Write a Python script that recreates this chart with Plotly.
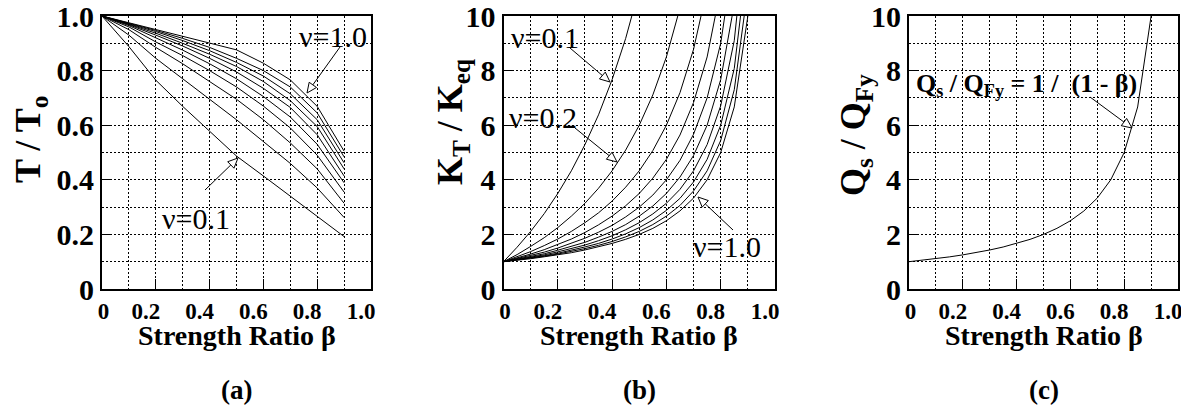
import math
import plotly.graph_objects as go

W, H = 1181, 411

# ---------------- data ----------------
beta_a = [0.0, 0.1, 0.2, 0.3, 0.4, 0.5, 0.6, 0.7, 0.8, 0.9]
T_nu01 = [1.0, 0.888, 0.765, 0.669, 0.578, 0.487, 0.414, 0.341, 0.268, 0.192]
T_nu02 = [1.0, 0.930, 0.845, 0.770, 0.695, 0.620, 0.540, 0.460, 0.370, 0.262]
T_nu03 = [1.0, 0.950, 0.885, 0.825, 0.760, 0.695, 0.620, 0.535, 0.440, 0.314]
T_nu04 = [1.0, 0.960, 0.905, 0.855, 0.800, 0.740, 0.670, 0.590, 0.490, 0.355]
T_nu05 = [1.0, 0.965, 0.920, 0.875, 0.825, 0.770, 0.705, 0.630, 0.530, 0.389]
T_nu06 = [1.0, 0.968, 0.930, 0.890, 0.845, 0.795, 0.735, 0.665, 0.565, 0.414]
T_nu07 = [1.0, 0.970, 0.937, 0.900, 0.860, 0.815, 0.760, 0.690, 0.595, 0.440]
T_nu08 = [1.0, 0.972, 0.943, 0.910, 0.873, 0.830, 0.780, 0.715, 0.620, 0.462]
T_nu09 = [1.0, 0.974, 0.947, 0.918, 0.885, 0.845, 0.800, 0.740, 0.645, 0.484]
T_nu10 = [1.0, 0.975, 0.951, 0.925, 0.900, 0.876, 0.827, 0.766, 0.669, 0.505]

beta_b = [0.0, 0.05, 0.1, 0.15, 0.2, 0.25, 0.3, 0.35, 0.4, 0.45,
          0.5, 0.55, 0.6, 0.65, 0.7, 0.75, 0.8, 0.85, 0.9, 0.95]
K_nu01 = [1.00, 1.53, 2.11, 2.76, 3.50, 4.33, 5.29, 6.38, 7.67, 9.18, 11.00]
K_nu02 = [1.00, 1.26, 1.56, 1.88, 2.25, 2.67, 3.14, 3.69, 4.33, 5.09, 6.00, 7.11, 8.50, 10.29]
K_nu03 = [1.00, 1.18, 1.37, 1.59, 1.83, 2.11, 2.43, 2.79, 3.22, 3.73, 4.33, 5.07, 6.00, 7.19, 8.78, 11.00]
K_nu04 = [1.00, 1.13, 1.28, 1.44, 1.63, 1.83, 2.07, 2.35, 2.67, 3.05, 3.50, 4.06, 4.75, 5.64, 6.83, 8.50, 11.00]
K_nu05 = [1.00, 1.11, 1.22, 1.35, 1.50, 1.67, 1.86, 2.08, 2.33, 2.64, 3.00, 3.44, 4.00, 4.71, 5.67, 7.00, 9.00, 12.33]
K_nu06 = [1.00, 1.09, 1.19, 1.29, 1.42, 1.56, 1.71, 1.90, 2.11, 2.36, 2.67, 3.04, 3.50, 4.10, 4.89, 6.00, 7.67, 10.44]
K_nu07 = [1.00, 1.08, 1.16, 1.25, 1.36, 1.48, 1.61, 1.77, 1.95, 2.17, 2.43, 2.75, 3.14, 3.65, 4.33, 5.29, 6.71, 9.10, 13.86]
K_nu08 = [1.00, 1.07, 1.14, 1.22, 1.31, 1.42, 1.54, 1.67, 1.83, 2.02, 2.25, 2.53, 2.88, 3.32, 3.92, 4.75, 6.00, 8.08, 12.25]
K_nu09 = [1.00, 1.06, 1.12, 1.20, 1.28, 1.37, 1.48, 1.60, 1.74, 1.91, 2.11, 2.36, 2.67, 3.06, 3.59, 4.33, 5.44, 7.30, 11.00]
K_nu10 = [1.00, 1.05, 1.11, 1.18, 1.25, 1.33, 1.43, 1.54, 1.67, 1.82, 2.00, 2.22, 2.50, 2.86, 3.33, 4.00, 5.00, 6.67, 10.00, 20.00]

beta_c = [0.0, 0.05, 0.1, 0.15, 0.2, 0.25, 0.3, 0.35, 0.4, 0.45,
          0.5, 0.55, 0.6, 0.65, 0.7, 0.75, 0.8, 0.85, 0.9]
Q_ratio = [1.000, 1.053, 1.111, 1.176, 1.250, 1.333, 1.429, 1.538, 1.667, 1.818,
           2.000, 2.222, 2.500, 2.857, 3.333, 4.000, 5.000, 6.667, 10.000]

x_tickvals = [0, 0.2, 0.4, 0.6, 0.8, 1.0]
x_ticktext = ["\u00a0\u00a0\u00a0\u00a00", "0.2", "0.4", "0.6", "0.8", "1.0"]
ya_tickvals = [0, 0.2, 0.4, 0.6, 0.8, 1.0]
ya_ticktext = ["0", "0.2", "0.4", "0.6", "0.8", "1.0"]
yb_tickvals = [0, 2, 4, 6, 8, 10]
yb_ticktext = ["0", "2", "4", "6", "8", "10"]

# ---------------- figure ----------------
fig = go.Figure()
line = dict(color="black", width=1)

for ys in [T_nu01, T_nu02, T_nu03, T_nu04, T_nu05, T_nu06, T_nu07, T_nu08, T_nu09, T_nu10]:
    fig.add_trace(go.Scatter(x=beta_a[:len(ys)], y=ys, mode="lines", line=line,
                             xaxis="x", yaxis="y", showlegend=False, hoverinfo="skip"))
for ys in [K_nu01, K_nu02, K_nu03, K_nu04, K_nu05, K_nu06, K_nu07, K_nu08, K_nu09, K_nu10]:
    fig.add_trace(go.Scatter(x=beta_b[:len(ys)], y=ys, mode="lines", line=line,
                             xaxis="x2", yaxis="y2", showlegend=False, hoverinfo="skip"))
fig.add_trace(go.Scatter(x=beta_c, y=Q_ratio, mode="lines", line=line,
                         xaxis="x3", yaxis="y3", showlegend=False, hoverinfo="skip"))

SERIF = "Liberation Serif"
DOT = "2px,2px"

def xaxis_cfg(dom, anchor):
    return dict(domain=dom, anchor=anchor, range=[0, 1.0], showline=True, linewidth=2,
                linecolor="black", mirror=True, ticks="inside", ticklen=10, tickwidth=1,
                tickcolor="black", tickmode="array", tickvals=x_tickvals, ticktext=x_ticktext,
                ticklabelshift=-10, automargin=False, ticklabeloverflow="allow",
                tickfont=dict(family=SERIF, size=23, color="black", weight="bold"),
                showgrid=True, gridcolor="black", gridwidth=1, griddash=DOT, zeroline=False,
                minor=dict(dtick=0.1, tick0=0, showgrid=True, gridcolor="black",
                           gridwidth=1, griddash=DOT, ticks=""),
                fixedrange=True)

def yaxis_cfg(anchor, rng, tv, tt, mdt):
    return dict(domain=[1 - 289 / H, 1 - 16 / H], anchor=anchor, range=rng, showline=True,
                linewidth=2, linecolor="black", mirror=True, ticks="inside", ticklen=10,
                tickwidth=1, tickcolor="black", tickmode="array", tickvals=tv, ticktext=tt,
                automargin=False, ticklabeloverflow="allow",
                tickfont=dict(family=SERIF, size=30, color="black", weight="bold"),
                showgrid=True, gridcolor="black", gridwidth=1, griddash=DOT, zeroline=False,
                minor=dict(dtick=mdt, tick0=0, showgrid=True, gridcolor="black",
                           gridwidth=1, griddash=DOT, ticks=""),
                fixedrange=True)

fig.update_layout(
    width=W, height=H, margin=dict(l=0, r=0, t=0, b=0, autoexpand=False),
    paper_bgcolor="white", plot_bgcolor="white",
    font=dict(family=SERIF, color="black"),
    xaxis=xaxis_cfg([102 / W, 371 / W], "y"),
    xaxis2=xaxis_cfg([503.5 / W, 775 / W], "y2"),
    xaxis3=xaxis_cfg([909 / W, 1178 / W], "y3"),
    yaxis=yaxis_cfg("x", [0, 1.0], ya_tickvals, ya_ticktext, 0.1),
    yaxis2=yaxis_cfg("x2", [0, 10], yb_tickvals, yb_ticktext, 1),
    yaxis3=yaxis_cfg("x3", [0, 10], yb_tickvals, yb_ticktext, 1),
)

def P(px, py):
    return px / W, 1 - py / H

annos = []
def text(px, py, s, size, bold=False, angle=0):
    x, y = P(px, py)
    annos.append(dict(x=x, y=y, xref="paper", yref="paper", text=s, showarrow=False,
                      textangle=angle, xanchor="center", yanchor="middle",
                      font=dict(family=SERIF, size=size, color="black",
                                weight="bold" if bold else "normal")))

# axis titles
for cx, lab in [(236.5, "(a)"), (639, "(b)"), (1043.5, "(c)")]:
    text(cx, 335, "Strength Ratio \u03b2", 28, bold=True)
    text(cx, 390, lab, 27, bold=True)
text(30, 140, "T / T<sub>o</sub>", 36, bold=True, angle=-90)
text(452, 122, "K<sub>T</sub> / K<sub>eq</sub>", 36, bold=True, angle=-90)
text(856, 135, "Q<sub>s</sub> / Q<sub>Fy</sub>", 36, bold=True, angle=-90)

# curve labels
text(333, 36, "\u03bd=1.0", 30)
text(196, 218, "\u03bd=0.1", 30)
text(545, 37, "\u03bd=0.1", 30)
text(543, 118, "\u03bd=0.2", 30)
text(727, 246, "\u03bd=1.0", 30)
text(1026, 85, "Q<sub>s</sub> / Q<sub>Fy</sub> = 1 /  (1 - \u03b2)", 26, bold=True)

shapes = []
def arrow(tail, tip, L=10, hw=4.5):
    tx, ty = tail
    hx, hy = tip
    d = math.hypot(hx - tx, hy - ty)
    ux, uy = (hx - tx) / d, (hy - ty) / d
    bx, by = hx - ux * L, hy - uy * L
    nx, ny = -uy, ux
    x0, y0 = P(tx, ty)
    x1, y1 = P(bx, by)
    shapes.append(dict(type="line", xref="paper", yref="paper", x0=x0, y0=y0, x1=x1, y1=y1,
                       line=dict(color="black", width=1)))
    pts = [P(hx, hy), P(bx + nx * hw, by + ny * hw), P(bx - nx * hw, by - ny * hw)]
    path = "M {:.5f},{:.5f} L {:.5f},{:.5f} L {:.5f},{:.5f} Z".format(*pts[0], *pts[1], *pts[2])
    shapes.append(dict(type="path", xref="paper", yref="paper", path=path,
                       fillcolor="white", line=dict(color="black", width=1)))

arrow((340, 47), (307, 93))
arrow((205, 190), (238, 158))
arrow((570, 48), (610, 82))
arrow((575, 128), (617, 162))
arrow((733, 230), (698, 197))
arrow((1090, 97), (1132, 128))

fig.update_layout(annotations=annos, shapes=shapes)
fig.write_html("out.html")
